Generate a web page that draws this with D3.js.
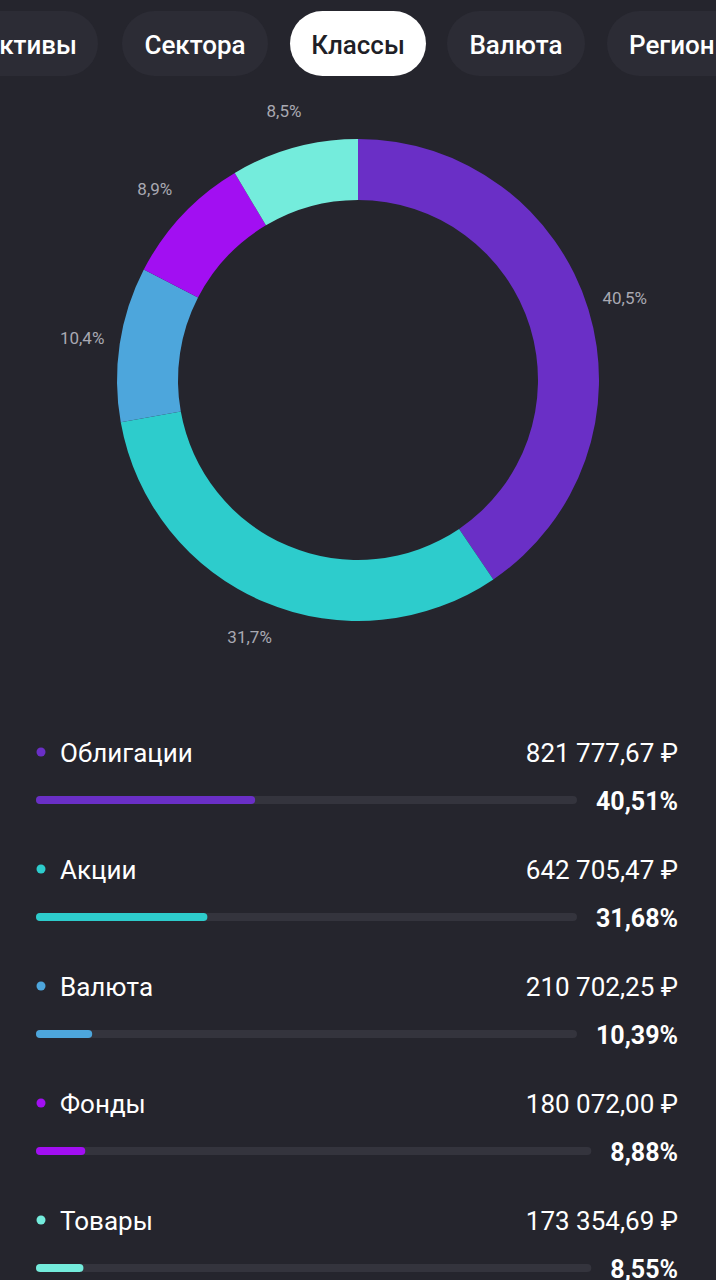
<!DOCTYPE html>
<html><head><meta charset="utf-8">
<script src="https://cdn.jsdelivr.net/npm/d3@7"></script>
<style>
html,body{margin:0;padding:0;background:#25252d;}
svg{display:block;}
</style></head>
<body>
<svg id="c" width="716" height="1280"></svg>
<script>
const tabs = ["Активы","Сектора","Классы","Валюта","Регионы"];
const categories = ["Облигации","Акции","Валюта","Фонды","Товары"];
const amounts = [821777.67, 642705.47, 210702.25, 180072.00, 173354.69];
const colors = ["#6a2fc6","#2dcccc","#4da6dc","#a20ff2","#74ecdc"];

const total = d3.sum(amounts);
const shares = amounts.map(a => a / total * 100);
const fmtMoney = v => d3.format(",.2f")(v).replace(/,/g," ").replace(".",",") + " ₽";
const fmtPct = (v,p) => d3.format("."+p+"f")(v).replace(".",",") + "%";

const svg = d3.select("#c");
svg.append("rect").attr("width",716).attr("height",1280).attr("fill","#25252d");

// tabs
const tabX = [[-40,98],[122,268],[290,426],[447,585],[607,760]];
const tg = svg.append("g");
tabs.forEach((t,i)=>{
  const [x0,x1]=tabX[i], active = i===2;
  tg.append("rect").attr("x",x0).attr("y",11).attr("width",x1-x0).attr("height",65).attr("rx",32.5)
    .attr("fill",active?"#ffffff":"#2c2c35");
  let tx=(x0+x1)/2, anchor="middle";
  if(i===0){tx=77;anchor="end";}
  if(i===4){tx=629;anchor="start";}
  tg.append("text").attr("x",tx).attr("y",54).attr("text-anchor",anchor)
    .attr("font-family","Roboto").attr("font-weight",500).attr("font-size",26)
    .attr("fill",active?"#1f1f27":"#ffffff").text(t);
});

// donut
const cx=358, cy=380;
const pie = d3.pie().sort(null).value(d=>d)(shares);
const arc = d3.arc().innerRadius(180).outerRadius(241);
const dg = svg.append("g").attr("transform",`translate(${cx},${cy})`);
dg.selectAll("path").data(pie).join("path").attr("d",arc).attr("fill",(d,i)=>colors[i]);
const labelArc = d3.arc().innerRadius(279).outerRadius(279);
dg.selectAll("text").data(pie).join("text")
  .attr("transform",d=>{const c=labelArc.centroid(d);return `translate(${c[0]},${c[1]})`;})
  .attr("text-anchor","middle").attr("dy","0.35em")
  .attr("font-family","Roboto").attr("font-size",17).attr("fill","#a9a9b2")
  .text(d=>fmtPct(d.data,1));

// legend
const x = d3.scaleLinear().domain([0,100]);
const lg = svg.append("g");
categories.forEach((c,i)=>{
  const y0 = 753 + i*117;
  lg.append("circle").attr("cx",41).attr("cy",y0-1).attr("r",4.5).attr("fill",colors[i]);
  lg.append("text").attr("x",60).attr("y",y0+9).attr("font-family","Roboto").attr("font-size",26)
    .attr("fill","#ffffff").text(c);
  lg.append("text").attr("x",678).attr("y",y0+9).attr("text-anchor","end").attr("font-family","Roboto")
    .attr("font-size",26).attr("fill","#ffffff").text(fmtMoney(amounts[i]));
  const pt = lg.append("text").attr("x",678).attr("y",y0+57).attr("text-anchor","end").attr("font-family","Roboto")
    .attr("font-weight",700).attr("font-size",25).attr("fill","#ffffff").text(fmtPct(shares[i],2));
  const tw = pt.node().getComputedTextLength();
  const trackEnd = 678 - tw - 19;
  x.range([36,trackEnd]);
  lg.append("rect").attr("x",36).attr("y",y0+43).attr("width",trackEnd-36).attr("height",8).attr("rx",4).attr("fill","#34343d");
  lg.append("rect").attr("x",36).attr("y",y0+43).attr("width",x(shares[i])-36).attr("height",8).attr("rx",4).attr("fill",colors[i]);
});
</script>
</body></html>
